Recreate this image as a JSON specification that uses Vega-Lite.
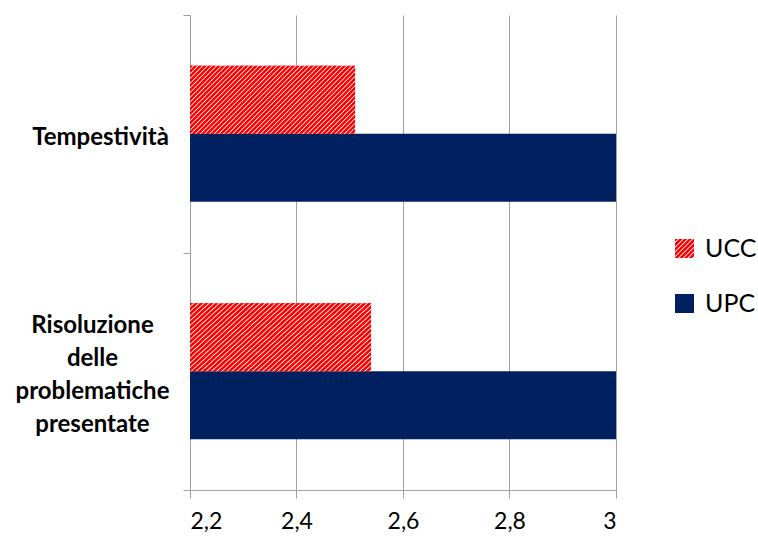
{
  "$schema": "https://vega.github.io/schema/vega-lite/v6.json",
  "width": 426,
  "height": 475,
  "autosize": {"type": "none"},
  "padding": {"left": 190, "top": 15, "right": 142, "bottom": 55},
  "background": "white",
  "data": {
    "values": [
      {"categoria": "Tempestività", "serie": "UCC", "valore": 2.51},
      {"categoria": "Tempestività", "serie": "UPC", "valore": 3.0},
      {"categoria": "Risoluzione delle problematiche presentate", "serie": "UCC", "valore": 2.54},
      {"categoria": "Risoluzione delle problematiche presentate", "serie": "UPC", "valore": 3.0}
    ]
  },
  "encoding": {
    "y": {
      "field": "categoria",
      "type": "nominal",
      "sort": ["Tempestività", "Risoluzione delle problematiche presentate"],
      "scale": {"paddingInner": 0, "paddingOuter": 0},
      "axis": {
        "title": null,
        "labelExpr": "split(datum.label, ' ')",
        "labelFont": "Lato",
        "labelFontSize": 24,
        "labelFontWeight": "bold",
        "labelColor": "#000000",
        "labelLineHeight": 33,
        "labelAlign": "center",
        "labelBaseline": "middle",
        "labelPadding": 91,
        "labelLimit": 300,
        "tickBand": "extent",
        "ticks": true,
        "tickSize": 7,
        "tickColor": "#a0a0a0",
        "domainColor": "#a0a0a0",
        "grid": false,
        "encoding": {"labels": {
          "dx": {"condition": {"test": "datum.value === 'Tempestività'", "value": 8}, "value": 0},
          "dy": {"condition": {"test": "datum.value === 'Tempestività'", "value": 4}, "value": -46}
        }}
      }
    },
    "yOffset": {"field": "serie", "type": "nominal", "sort": ["UCC", "UPC"], "scale": {"paddingInner": 0, "paddingOuter": 0.746}},
    "x": {
      "field": "valore",
      "type": "quantitative",
      "scale": {"domain": [2.2, 3], "zero": false, "nice": false},
      "axis": {
        "title": null,
        "values": [2.2, 2.4, 2.6, 2.8, 3],
        "labelExpr": "replace(format(datum.value, '~g'), '.', ',')",
        "labelFont": "Lato",
        "labelFontSize": 23,
        "labelColor": "#000000",
        "labelPadding": 12,
        "tickSize": 8,
        "tickColor": "#a0a0a0",
        "domainColor": "#a0a0a0",
        "grid": true,
        "gridColor": "#a0a0a0",
        "gridWidth": 1
      }
    },
    "x2": {"datum": 2.2}
  },
  "layer": [
    {
      "mark": {"type": "bar", "strokeWidth": 0},
      "encoding": {
        "color": {
          "field": "serie",
          "type": "nominal",
          "scale": {
            "domain": ["UCC", "UPC"],
            "range": [
              {"expr": "{gradient: 'linear', x1: 0, y1: 0, x2: 1, y2: 1, stops: [{offset: 0, color: 'red'}, {offset: 0.06, color: 'red'}, {offset: 0.09, color: 'white'}, {offset: 0.125, color: 'red'}, {offset: 0.185, color: 'red'}, {offset: 0.215, color: 'white'}, {offset: 0.25, color: 'red'}, {offset: 0.31, color: 'red'}, {offset: 0.34, color: 'white'}, {offset: 0.375, color: 'red'}, {offset: 0.435, color: 'red'}, {offset: 0.465, color: 'white'}, {offset: 0.5, color: 'red'}, {offset: 0.56, color: 'red'}, {offset: 0.59, color: 'white'}, {offset: 0.625, color: 'red'}, {offset: 0.685, color: 'red'}, {offset: 0.715, color: 'white'}, {offset: 0.75, color: 'red'}, {offset: 0.81, color: 'red'}, {offset: 0.84, color: 'white'}, {offset: 0.875, color: 'red'}, {offset: 0.935, color: 'red'}, {offset: 0.965, color: 'white'}, {offset: 1, color: 'red'}]}"},
              "#002060"
            ]
          },
          "legend": {
            "title": null,
            "orient": "none",
            "legendX": 482,
            "legendY": 221,
            "padding": 0,
            "symbolType": "square",
            "symbolSize": 361,
            "symbolStrokeWidth": 0,
            "labelFont": "Lato",
            "labelFontSize": 25,
            "labelColor": "#000000",
            "labelOffset": 8,
            "rowPadding": 29
          }
        }
      }
    },
    {
      "transform": [{"filter": "datum.serie === 'UCC'"}],
      "mark": {
        "type": "bar",
        "strokeWidth": 0,
        "fill": {"gradient": "linear", "x1": 0, "y1": 0, "x2": 1.207, "y2": 0.494, "stops": [
          {"offset":0,"color":"red"},{"offset":0.01,"color":"red"},{"offset":0.015,"color":"white"},
          {"offset":0.02,"color":"red"},{"offset":0.03,"color":"red"},{"offset":0.035,"color":"white"},
          {"offset":0.04,"color":"red"},{"offset":0.05,"color":"red"},{"offset":0.055,"color":"white"},
          {"offset":0.06,"color":"red"},{"offset":0.07,"color":"red"},{"offset":0.075,"color":"white"},
          {"offset":0.08,"color":"red"},{"offset":0.09,"color":"red"},{"offset":0.095,"color":"white"},
          {"offset":0.10,"color":"red"},{"offset":0.11,"color":"red"},{"offset":0.115,"color":"white"},
          {"offset":0.12,"color":"red"},{"offset":0.13,"color":"red"},{"offset":0.135,"color":"white"},
          {"offset":0.14,"color":"red"},{"offset":0.15,"color":"red"},{"offset":0.155,"color":"white"},
          {"offset":0.16,"color":"red"},{"offset":0.17,"color":"red"},{"offset":0.175,"color":"white"},
          {"offset":0.18,"color":"red"},{"offset":0.19,"color":"red"},{"offset":0.195,"color":"white"},
          {"offset":0.20,"color":"red"},{"offset":0.21,"color":"red"},{"offset":0.215,"color":"white"},
          {"offset":0.22,"color":"red"},{"offset":0.23,"color":"red"},{"offset":0.235,"color":"white"},
          {"offset":0.24,"color":"red"},{"offset":0.25,"color":"red"},{"offset":0.255,"color":"white"},
          {"offset":0.26,"color":"red"},{"offset":0.27,"color":"red"},{"offset":0.275,"color":"white"},
          {"offset":0.28,"color":"red"},{"offset":0.29,"color":"red"},{"offset":0.295,"color":"white"},
          {"offset":0.30,"color":"red"},{"offset":0.31,"color":"red"},{"offset":0.315,"color":"white"},
          {"offset":0.32,"color":"red"},{"offset":0.33,"color":"red"},{"offset":0.335,"color":"white"},
          {"offset":0.34,"color":"red"},{"offset":0.35,"color":"red"},{"offset":0.355,"color":"white"},
          {"offset":0.36,"color":"red"},{"offset":0.37,"color":"red"},{"offset":0.375,"color":"white"},
          {"offset":0.38,"color":"red"},{"offset":0.39,"color":"red"},{"offset":0.395,"color":"white"},
          {"offset":0.40,"color":"red"},{"offset":0.41,"color":"red"},{"offset":0.415,"color":"white"},
          {"offset":0.42,"color":"red"},{"offset":0.43,"color":"red"},{"offset":0.435,"color":"white"},
          {"offset":0.44,"color":"red"},{"offset":0.45,"color":"red"},{"offset":0.455,"color":"white"},
          {"offset":0.46,"color":"red"},{"offset":0.47,"color":"red"},{"offset":0.475,"color":"white"},
          {"offset":0.48,"color":"red"},{"offset":0.49,"color":"red"},{"offset":0.495,"color":"white"},
          {"offset":0.50,"color":"red"},{"offset":0.51,"color":"red"},{"offset":0.515,"color":"white"},
          {"offset":0.52,"color":"red"},{"offset":0.53,"color":"red"},{"offset":0.535,"color":"white"},
          {"offset":0.54,"color":"red"},{"offset":0.55,"color":"red"},{"offset":0.555,"color":"white"},
          {"offset":0.56,"color":"red"},{"offset":0.57,"color":"red"},{"offset":0.575,"color":"white"},
          {"offset":0.58,"color":"red"},{"offset":0.59,"color":"red"},{"offset":0.595,"color":"white"},
          {"offset":0.60,"color":"red"},{"offset":0.61,"color":"red"},{"offset":0.615,"color":"white"},
          {"offset":0.62,"color":"red"},{"offset":0.63,"color":"red"},{"offset":0.635,"color":"white"},
          {"offset":0.64,"color":"red"},{"offset":0.65,"color":"red"},{"offset":0.655,"color":"white"},
          {"offset":0.66,"color":"red"},{"offset":0.67,"color":"red"},{"offset":0.675,"color":"white"},
          {"offset":0.68,"color":"red"},{"offset":0.69,"color":"red"},{"offset":0.695,"color":"white"},
          {"offset":0.70,"color":"red"},{"offset":0.71,"color":"red"},{"offset":0.715,"color":"white"},
          {"offset":0.72,"color":"red"},{"offset":0.73,"color":"red"},{"offset":0.735,"color":"white"},
          {"offset":0.74,"color":"red"},{"offset":0.75,"color":"red"},{"offset":0.755,"color":"white"},
          {"offset":0.76,"color":"red"},{"offset":0.77,"color":"red"},{"offset":0.775,"color":"white"},
          {"offset":0.78,"color":"red"},{"offset":0.79,"color":"red"},{"offset":0.795,"color":"white"},
          {"offset":0.80,"color":"red"},{"offset":0.81,"color":"red"},{"offset":0.815,"color":"white"},
          {"offset":0.82,"color":"red"},{"offset":0.83,"color":"red"},{"offset":0.835,"color":"white"},
          {"offset":0.84,"color":"red"},{"offset":0.85,"color":"red"},{"offset":0.855,"color":"white"},
          {"offset":0.86,"color":"red"},{"offset":0.87,"color":"red"},{"offset":0.875,"color":"white"},
          {"offset":0.88,"color":"red"},{"offset":0.89,"color":"red"},{"offset":0.895,"color":"white"},
          {"offset":0.90,"color":"red"},{"offset":0.91,"color":"red"},{"offset":0.915,"color":"white"},
          {"offset":0.92,"color":"red"},{"offset":0.93,"color":"red"},{"offset":0.935,"color":"white"},
          {"offset":0.94,"color":"red"},{"offset":0.95,"color":"red"},{"offset":0.955,"color":"white"},
          {"offset":0.96,"color":"red"},{"offset":0.97,"color":"red"},{"offset":0.975,"color":"white"},
          {"offset":0.98,"color":"red"},{"offset":0.99,"color":"red"},{"offset":0.995,"color":"white"},
          {"offset":1,"color":"red"}
        ]}
      }
    }
  ],
  "config": {
    "view": {"stroke": null},
    "font": "Lato"
  }
}
